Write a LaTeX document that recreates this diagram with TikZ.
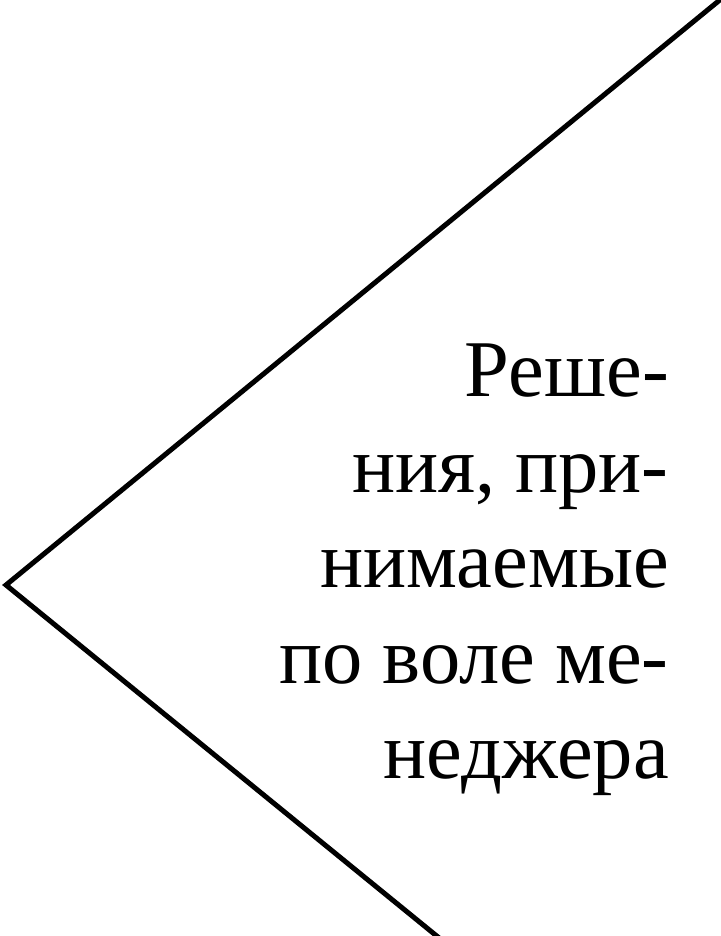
\documentclass[tikz,border=0pt]{standalone}
\usepackage{fontspec}
\setmainfont{Liberation Serif}
\begin{document}
\begin{tikzpicture}[x=1pt,y=-1pt]
\tikzset{edge/.style={line width=5pt,line join=miter,black},
  label/.style={align=right,inner sep=0pt,font=\fontsize{80.5}{95.5}\selectfont}}
\useasboundingbox (0,0) rectangle (720,936);
\coordinate (top) at (732,-10);
\coordinate (apex) at (6,585);
\coordinate (bot) at (449,946);
\draw[edge] (top) -- (apex) -- (bot);
\node[label,anchor=north east] (txt) at (669,344) {Реше-\\ния, при-\\нимаемые\\по воле ме-\\неджера};
\end{tikzpicture}
\end{document}
